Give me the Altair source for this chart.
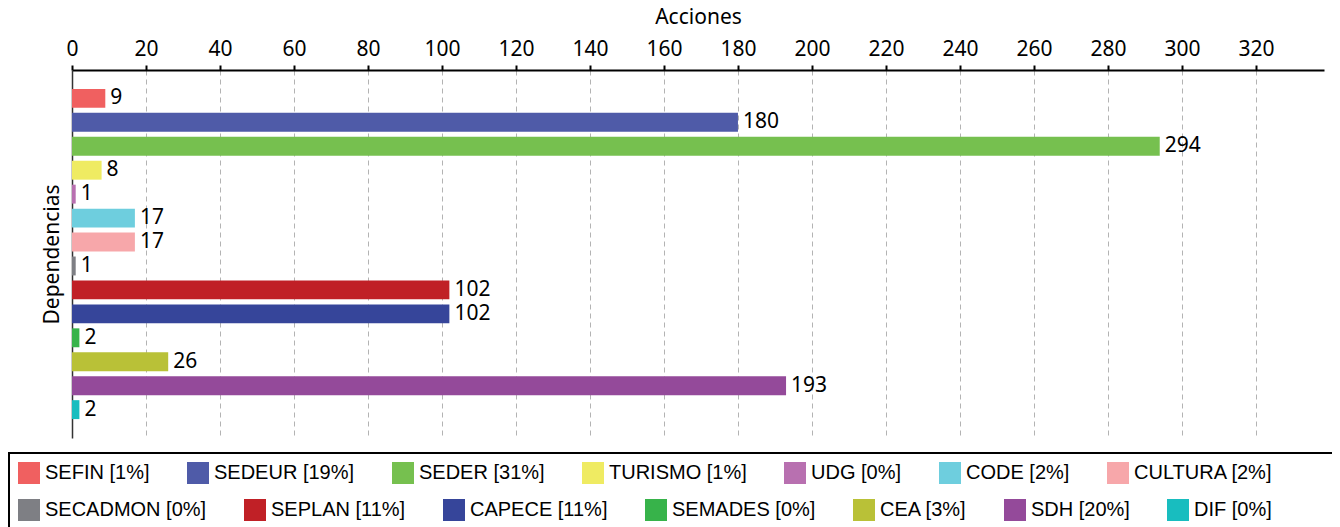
import altair as alt
import pandas as pd

categorias = ["SEFIN", "SEDEUR", "SEDER", "TURISMO", "UDG", "CODE", "CULTURA",
              "SECADMON", "SEPLAN", "CAPECE", "SEMADES", "CEA", "SDH", "DIF"]
acciones = [9, 180, 294, 8, 1, 17, 17, 1, 102, 102, 2, 26, 193, 2]
leyendas = ["SEFIN [1%]", "SEDEUR [19%]", "SEDER [31%]", "TURISMO [1%]", "UDG [0%]",
            "CODE [2%]", "CULTURA [2%]", "SECADMON [0%]", "SEPLAN [11%]", "CAPECE [11%]",
            "SEMADES [0%]", "CEA [3%]", "SDH [20%]", "DIF [0%]"]
colores = ["#F06060", "#4F5BA8", "#76C04F", "#EFEB62", "#B870B0", "#6ECEDE", "#F7A7AA",
           "#7E7F84", "#C02026", "#36459A", "#37B34A", "#B9C137", "#944A9A", "#18BDBF"]
ticks_x = [0, 20, 40, 60, 80, 100, 120, 140, 160, 180, 200, 220, 240, 260, 280, 300, 320]

df = pd.DataFrame({"dep": categorias, "acciones": acciones, "leyenda": leyendas})
df1 = df.iloc[:7]
df2 = df.iloc[7:]

FONT = "Noto Sans"
LFONT = "Liberation Sans"

x_enc = alt.X(
    "acciones:Q",
    title="Acciones",
    scale=alt.Scale(domain=[0, 338.4], nice=False, zero=True),
    axis=alt.Axis(
        orient="top", values=ticks_x, grid=True, gridDash=[5, 4], gridColor="#b3b3b3",
        gridWidth=1, domainColor="black", domainWidth=2, tickColor="black", tickWidth=2,
        tickSize=5, labelPadding=6, labelFontSize=21, labelFont=FONT, labelColor="black",
        titleFontSize=21, titleFont=FONT, titleFontWeight="normal", titleColor="black",
        titlePadding=11, labelFlush=False, labelOverlap=False,
    ),
)
y_enc = alt.Y(
    "dep:N",
    sort=categorias,
    title="Dependencias",
    scale=alt.Scale(domain=categorias, paddingInner=0.21, paddingOuter=0.79),
    axis=alt.Axis(
        labels=False, ticks=False, grid=False, domainColor="#333333", domainWidth=1.5,
        titleFontSize=21, titleFont=FONT, titleFontWeight="normal", titleColor="black",
        titlePadding=10,
    ),
)


def legend_at(y):
    return alt.Legend(
        title=None, orient="none", legendX=-64, legendY=y, direction="horizontal",
        columnPadding=37, symbolType="square", symbolSize=484, symbolStrokeWidth=0,
        symbolOpacity=1, labelFont=LFONT, labelFontSize=20, labelColor="black",
        labelOffset=5, labelLimit=400, padding=10,
    )


bars1 = alt.Chart(df1).mark_bar(opacity=1).encode(
    x=x_enc,
    y=y_enc,
    color=alt.Color("leyenda:N", scale=alt.Scale(domain=leyendas[:7], range=colores[:7]),
                    legend=legend_at(382)),
)
bars2 = alt.Chart(df2).mark_bar(opacity=1).encode(
    x=alt.X("acciones:Q"),
    y=alt.Y("dep:N", sort=categorias),
    color=alt.Color("leyenda:N", scale=alt.Scale(domain=leyendas[7:], range=colores[7:]),
                    legend=legend_at(419)),
)

labels = alt.Chart(df).mark_text(
    align="left", baseline="middle", dx=5, fontSize=21, font=FONT, color="black"
).encode(
    x=alt.X("acciones:Q"),
    y=alt.Y("dep:N", sort=categorias),
    text=alt.Text("acciones:Q"),
)

# frame around the legend area
frame = alt.Chart(pd.DataFrame({"k": [0]})).mark_rect(
    fillOpacity=0, stroke="black", strokeWidth=2
).encode(x=alt.value(-63), x2=alt.value(1290), y=alt.value(383), y2=alt.value(480))

chart = (
    alt.layer(bars1, bars2, labels, frame)
    .resolve_scale(color="independent")
    .properties(
        width=1252, height=368, background="white",
        autosize=alt.AutoSizeParams(type="none"),
        padding={"left": 64, "top": 62, "right": 8, "bottom": 97},
    )
    .configure_view(stroke=None)
)

chart.save("out.html", embed_options={"renderer": "svg", "actions": False})
